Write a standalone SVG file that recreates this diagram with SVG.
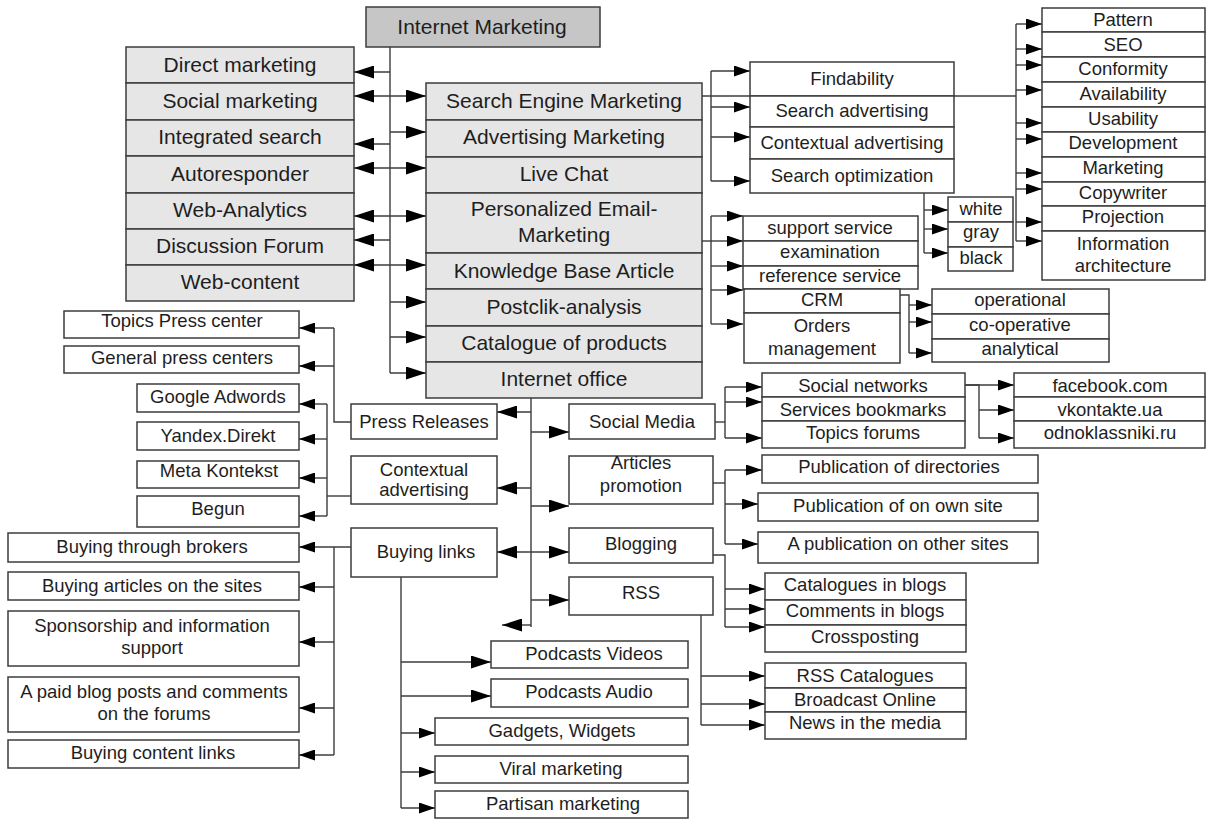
<svg xmlns="http://www.w3.org/2000/svg" width="1208" height="820" viewBox="0 0 1208 820">
<style>
.b{fill:#fff;stroke:#3c3c3c;stroke-width:1.5}
.g{fill:#e6e6e6;stroke:#3c3c3c;stroke-width:1.5}
.d{fill:#c6c6c6;stroke:#3c3c3c;stroke-width:1.5}
text{font-family:"Liberation Sans",Arial,sans-serif;fill:#1e1e1e;text-anchor:middle}
.t{font-size:18.5px}
.T{font-size:21px}
.c path{fill:none;stroke:#3c3c3c;stroke-width:1.4}
.L{marker-end:url(#A)}
.S{marker-end:url(#a)}
.LL{marker-start:url(#A);marker-end:url(#A)}
</style>
<defs>
<marker id="A" viewBox="0 0 20 13" markerWidth="20" markerHeight="13" refX="20" refY="6.5" orient="auto-start-reverse" markerUnits="userSpaceOnUse"><path d="M0,0 L20,6.5 L0,13 z" fill="#000"/></marker>
<marker id="a" viewBox="0 0 16 11" markerWidth="16" markerHeight="11" refX="16" refY="5.5" orient="auto-start-reverse" markerUnits="userSpaceOnUse"><path d="M0,0 L16,5.5 L0,11 z" fill="#000"/></marker>
</defs>
<rect width="1208" height="820" fill="#fff"/>

<g class="c" id="connectors">
<path d="M390,47 V373"/>
<path class="L" d="M390,72 H354"/>
<path class="LL" d="M354,96 H426"/>
<path class="L" d="M390,132 H426"/>
<path class="L" d="M390,144 H354"/>
<path class="LL" d="M354,168 H426"/>
<path class="LL" d="M354,216 H426"/>
<path class="L" d="M390,240 H354"/>
<path class="LL" d="M354,265 H426"/>
<path class="L" d="M390,302 H426"/>
<path class="L" d="M390,337 H426"/>
<path class="L" d="M390,373 H426"/>

<path d="M702,96 H1016"/>
<path d="M711,71 V181"/>
<path class="S" d="M711,71 H750"/>
<path class="S" d="M711,107 H750"/>
<path class="S" d="M711,137 H750"/>
<path class="S" d="M711,181 H750"/>

<path d="M1016,24 V241"/>
<path class="S" d="M1016,24 H1042"/>
<path class="S" d="M1016,49 H1042"/>
<path class="S" d="M1016,65 H1042"/>
<path class="S" d="M1016,90 H1042"/>
<path class="S" d="M1016,123 H1042"/>
<path class="S" d="M1016,139 H1042"/>
<path class="S" d="M1016,173 H1042"/>
<path class="S" d="M1016,189 H1042"/>
<path class="S" d="M1016,222 H1042"/>
<path class="S" d="M1016,241 H1042"/>

<path d="M924,193 V253"/>
<path class="S" d="M924,210 H948"/>
<path class="S" d="M924,229 H948"/>
<path class="S" d="M924,253 H948"/>

<path d="M702,241 H711"/>
<path d="M711,216 V324"/>
<path class="S" d="M711,216 H743"/>
<path class="S" d="M711,241 H743"/>
<path class="S" d="M711,266 H743"/>
<path class="S" d="M711,290 H743"/>
<path class="S" d="M711,324 H743"/>

<path d="M900,295 H909 V353"/>
<path class="S" d="M909,305 H932"/>
<path class="S" d="M909,322 H932"/>
<path class="S" d="M909,353 H932"/>

<path d="M531,398 V627"/>
<path class="L" d="M531,412 H497"/>
<path class="L" d="M531,432 H569"/>
<path class="L" d="M531,488 H497"/>
<path class="L" d="M531,506 H569"/>
<path class="LL" d="M497,552 H569"/>
<path class="L" d="M531,600 H569"/>
<path class="L" d="M531,625 H502"/>

<path d="M351,422 H334 V328"/>
<path class="S" d="M334,328 H299"/>
<path class="S" d="M334,366 H299"/>

<path d="M351,496 H327"/>
<path d="M327,404 V516"/>
<path class="S" d="M327,404 H299"/>
<path class="S" d="M327,439 H299"/>
<path class="S" d="M327,478 H299"/>
<path class="S" d="M327,516 H299"/>

<path class="S" d="M351,547 H299"/>
<path d="M334,547 V755"/>
<path class="S" d="M334,587 H299"/>
<path class="S" d="M334,642 H299"/>
<path class="S" d="M334,708 H299"/>
<path class="S" d="M334,755 H299"/>

<path d="M401,577 V808"/>
<path class="L" d="M401,662 H491"/>
<path class="L" d="M401,696 H491"/>
<path class="S" d="M401,733 H435"/>
<path class="S" d="M401,772 H435"/>
<path class="S" d="M401,808 H435"/>

<path d="M715,422 H725"/>
<path d="M725,387 V438"/>
<path class="S" d="M725,387 H762"/>
<path class="S" d="M725,402 H762"/>
<path class="S" d="M725,438 H762"/>

<path d="M965,385 H979 V438"/>
<path class="S" d="M965,385 H1014"/>
<path class="S" d="M979,410 H1014"/>
<path class="S" d="M979,438 H1014"/>

<path d="M713,483 H725"/>
<path d="M725,470 V544"/>
<path class="S" d="M725,470 H762"/>
<path class="S" d="M725,504 H758"/>
<path class="S" d="M725,544 H758"/>

<path d="M713,555 H725 V627"/>
<path class="S" d="M725,589 H765"/>
<path class="S" d="M725,609 H765"/>
<path class="S" d="M725,627 H765"/>

<path d="M701,615 V725"/>
<path class="S" d="M701,676 H765"/>
<path class="S" d="M701,704 H765"/>
<path class="S" d="M701,725 H765"/>
</g>

<g id="internet-marketing"><rect class="d" x="366" y="7" width="234" height="40"/><text class="T" x="482" y="34">Internet Marketing</text></g>

<g id="direct-marketing"><rect class="g" x="126" y="47" width="228" height="36"/><text class="T" x="240" y="72">Direct marketing</text></g>
<g id="social-marketing"><rect class="g" x="126" y="83" width="228" height="37"/><text class="T" x="240" y="108">Social marketing</text></g>
<g id="integrated-search"><rect class="g" x="126" y="120" width="228" height="36"/><text class="T" x="240" y="144">Integrated search</text></g>
<g id="autoresponder"><rect class="g" x="126" y="156" width="228" height="37"/><text class="T" x="240" y="181">Autoresponder</text></g>
<g id="web-analytics"><rect class="g" x="126" y="193" width="228" height="36"/><text class="T" x="240" y="217">Web-Analytics</text></g>
<g id="discussion-forum"><rect class="g" x="126" y="229" width="228" height="36"/><text class="T" x="240" y="253">Discussion Forum</text></g>
<g id="web-content"><rect class="g" x="126" y="265" width="228" height="36"/><text class="T" x="240" y="289">Web-content</text></g>

<g id="sem"><rect class="g" x="426" y="83" width="276" height="37"/><text class="T" x="564" y="108">Search Engine Marketing</text></g>
<g id="advertising-marketing"><rect class="g" x="426" y="120" width="276" height="37"/><text class="T" x="564" y="144">Advertising Marketing</text></g>
<g id="live-chat"><rect class="g" x="426" y="157" width="276" height="36"/><text class="T" x="564" y="181">Live Chat</text></g>
<g id="personalized-email"><rect class="g" x="426" y="193" width="276" height="60"/><text class="T" x="564" y="216">Personalized Email-</text><text class="T" x="564" y="242">Marketing</text></g>
<g id="knowledge-base"><rect class="g" x="426" y="253" width="276" height="36"/><text class="T" x="564" y="278">Knowledge Base Article</text></g>
<g id="postclik"><rect class="g" x="426" y="289" width="276" height="37"/><text class="T" x="564" y="314">Postclik-analysis</text></g>
<g id="catalogue"><rect class="g" x="426" y="326" width="276" height="36"/><text class="T" x="564" y="350">Catalogue of products</text></g>
<g id="internet-office"><rect class="g" x="426" y="362" width="276" height="36"/><text class="T" x="564" y="386">Internet office</text></g>

<g id="findability"><rect class="b" x="750" y="62" width="204" height="34"/><text class="t" x="852" y="85">Findability</text></g>
<g id="search-advertising"><rect class="b" x="750" y="96" width="204" height="31"/><text class="t" x="852" y="117">Search advertising</text></g>
<g id="contextual-advertising-1"><rect class="b" x="750" y="127" width="204" height="32"/><text class="t" x="852" y="149">Contextual advertising</text></g>
<g id="search-optimization"><rect class="b" x="750" y="159" width="204" height="34"/><text class="t" x="852" y="182">Search optimization</text></g>

<g id="pattern"><rect class="b" x="1042" y="8" width="163" height="24"/><text class="t" x="1123" y="26">Pattern</text></g>
<g id="seo"><rect class="b" x="1042" y="32" width="163" height="25"/><text class="t" x="1123" y="51">SEO</text></g>
<g id="conformity"><rect class="b" x="1042" y="57" width="163" height="25"/><text class="t" x="1123" y="75">Conformity</text></g>
<g id="availability"><rect class="b" x="1042" y="82" width="163" height="25"/><text class="t" x="1123" y="100">Availability</text></g>
<g id="usability"><rect class="b" x="1042" y="107" width="163" height="25"/><text class="t" x="1123" y="125">Usability</text></g>
<g id="development"><rect class="b" x="1042" y="132" width="163" height="25"/><text class="t" x="1123" y="149">Development</text></g>
<g id="marketing"><rect class="b" x="1042" y="157" width="163" height="25"/><text class="t" x="1123" y="174">Marketing</text></g>
<g id="copywriter"><rect class="b" x="1042" y="182" width="163" height="24"/><text class="t" x="1123" y="199">Copywriter</text></g>
<g id="projection"><rect class="b" x="1042" y="206" width="163" height="25"/><text class="t" x="1123" y="223">Projection</text></g>
<g id="information-architecture"><rect class="b" x="1042" y="231" width="163" height="49"/><text class="t" x="1123" y="250">Information</text><text class="t" x="1123" y="272">architecture</text></g>

<g id="white"><rect class="b" x="948" y="197" width="65" height="25"/><text class="t" x="981" y="215">white</text></g>
<g id="gray"><rect class="b" x="948" y="222" width="65" height="25"/><text class="t" x="981" y="238">gray</text></g>
<g id="black"><rect class="b" x="948" y="247" width="65" height="24"/><text class="t" x="981" y="264">black</text></g>

<g id="support-service"><rect class="b" x="743" y="216" width="175" height="25"/><text class="t" x="830" y="234">support service</text></g>
<g id="examination"><rect class="b" x="743" y="241" width="175" height="25"/><text class="t" x="830" y="258">examination</text></g>
<g id="reference-service"><rect class="b" x="743" y="266" width="175" height="23"/><text class="t" x="830" y="282">reference service</text></g>
<g id="crm"><rect class="b" x="744" y="289" width="156" height="24"/><text class="t" x="822" y="306">CRM</text></g>
<g id="orders-management"><rect class="b" x="744" y="313" width="156" height="50"/><text class="t" x="822" y="332">Orders</text><text class="t" x="822" y="355">management</text></g>

<g id="operational"><rect class="b" x="932" y="289" width="177" height="25"/><text class="t" x="1020" y="306">operational</text></g>
<g id="co-operative"><rect class="b" x="932" y="314" width="177" height="25"/><text class="t" x="1020" y="331">co-operative</text></g>
<g id="analytical"><rect class="b" x="932" y="339" width="177" height="23"/><text class="t" x="1020" y="355">analytical</text></g>

<g id="press-releases"><rect class="b" x="351" y="404" width="146" height="35"/><text class="t" x="424" y="428">Press Releases</text></g>
<g id="contextual-advertising-2"><rect class="b" x="351" y="456" width="146" height="48"/><text class="t" x="424" y="476">Contextual</text><text class="t" x="424" y="496">advertising</text></g>
<g id="buying-links"><rect class="b" x="351" y="528" width="146" height="49"/><text class="t" x="426" y="558">Buying links</text></g>

<g id="social-media"><rect class="b" x="569" y="404" width="146" height="35"/><text class="t" x="642" y="428">Social Media</text></g>
<g id="articles-promotion"><rect class="b" x="569" y="456" width="144" height="48"/><text class="t" x="641" y="469">Articles</text><text class="t" x="641" y="492">promotion</text></g>
<g id="blogging"><rect class="b" x="569" y="528" width="144" height="35"/><text class="t" x="641" y="550">Blogging</text></g>
<g id="rss"><rect class="b" x="569" y="577" width="144" height="38"/><text class="t" x="641" y="599">RSS</text></g>

<g id="topics-press-center"><rect class="b" x="64" y="311" width="235" height="27"/><text class="t" x="182" y="327">Topics Press center</text></g>
<g id="general-press-centers"><rect class="b" x="64" y="346" width="235" height="27"/><text class="t" x="182" y="364">General press centers</text></g>
<g id="google-adwords"><rect class="b" x="137" y="384" width="162" height="28"/><text class="t" x="218" y="403">Google Adwords</text></g>
<g id="yandex-direkt"><rect class="b" x="137" y="422" width="162" height="28"/><text class="t" x="218" y="442">Yandex.Direkt</text></g>
<g id="meta-kontekst"><rect class="b" x="137" y="461" width="162" height="27"/><text class="t" x="219" y="477">Meta Kontekst</text></g>
<g id="begun"><rect class="b" x="137" y="496" width="162" height="31"/><text class="t" x="218" y="515">Begun</text></g>

<g id="buying-brokers"><rect class="b" x="8" y="533" width="291" height="29"/><text class="t" x="152" y="553">Buying through brokers</text></g>
<g id="buying-articles"><rect class="b" x="8" y="572" width="291" height="28"/><text class="t" x="152" y="592">Buying articles on the sites</text></g>
<g id="sponsorship"><rect class="b" x="8" y="611" width="291" height="55"/><text class="t" x="152" y="632">Sponsorship and information</text><text class="t" x="152" y="654">support</text></g>
<g id="paid-blog-posts"><rect class="b" x="8" y="677" width="291" height="55"/><text class="t" x="154" y="698">A paid blog posts and comments</text><text class="t" x="154" y="720">on the forums</text></g>
<g id="buying-content-links"><rect class="b" x="8" y="740" width="291" height="28"/><text class="t" x="153" y="759">Buying content links</text></g>

<g id="podcasts-videos"><rect class="b" x="491" y="641" width="197" height="27"/><text class="t" x="594" y="660">Podcasts Videos</text></g>
<g id="podcasts-audio"><rect class="b" x="491" y="679" width="197" height="28"/><text class="t" x="589" y="698">Podcasts Audio</text></g>
<g id="gadgets-widgets"><rect class="b" x="435" y="718" width="253" height="27"/><text class="t" x="562" y="737">Gadgets, Widgets</text></g>
<g id="viral-marketing"><rect class="b" x="435" y="756" width="253" height="27"/><text class="t" x="561" y="775">Viral marketing</text></g>
<g id="partisan-marketing"><rect class="b" x="435" y="791" width="253" height="27"/><text class="t" x="563" y="810">Partisan marketing</text></g>

<g id="social-networks"><rect class="b" x="762" y="373" width="203" height="24"/><text class="t" x="863" y="392">Social networks</text></g>
<g id="services-bookmarks"><rect class="b" x="762" y="397" width="203" height="24"/><text class="t" x="863" y="416">Services bookmarks</text></g>
<g id="topics-forums"><rect class="b" x="762" y="421" width="203" height="27"/><text class="t" x="863" y="439">Topics forums</text></g>
<g id="facebook"><rect class="b" x="1014" y="373" width="191" height="24"/><text class="t" x="1110" y="392">facebook.com</text></g>
<g id="vkontakte"><rect class="b" x="1014" y="397" width="191" height="24"/><text class="t" x="1110" y="416">vkontakte.ua</text></g>
<g id="odnoklassniki"><rect class="b" x="1014" y="421" width="191" height="27"/><text class="t" x="1110" y="439">odnoklassniki.ru</text></g>

<g id="publication-directories"><rect class="b" x="762" y="455" width="276" height="28"/><text class="t" x="899" y="473">Publication of directories</text></g>
<g id="publication-own-site"><rect class="b" x="758" y="493" width="280" height="28"/><text class="t" x="898" y="512">Publication of on own site</text></g>
<g id="publication-other-sites"><rect class="b" x="758" y="532" width="280" height="31"/><text class="t" x="898" y="550">A publication on other sites</text></g>

<g id="catalogues-blogs"><rect class="b" x="765" y="573" width="201" height="27"/><text class="t" x="865" y="591">Catalogues in blogs</text></g>
<g id="comments-blogs"><rect class="b" x="765" y="600" width="201" height="25"/><text class="t" x="865" y="617">Comments in blogs</text></g>
<g id="crossposting"><rect class="b" x="765" y="625" width="201" height="27"/><text class="t" x="865" y="643">Crossposting</text></g>

<g id="rss-catalogues"><rect class="b" x="765" y="663" width="201" height="25"/><text class="t" x="865" y="682">RSS Catalogues</text></g>
<g id="broadcast-online"><rect class="b" x="765" y="688" width="201" height="24"/><text class="t" x="865" y="706">Broadcast Online</text></g>
<g id="news-media"><rect class="b" x="765" y="712" width="201" height="27"/><text class="t" x="865" y="729">News in the media</text></g>
</svg>
